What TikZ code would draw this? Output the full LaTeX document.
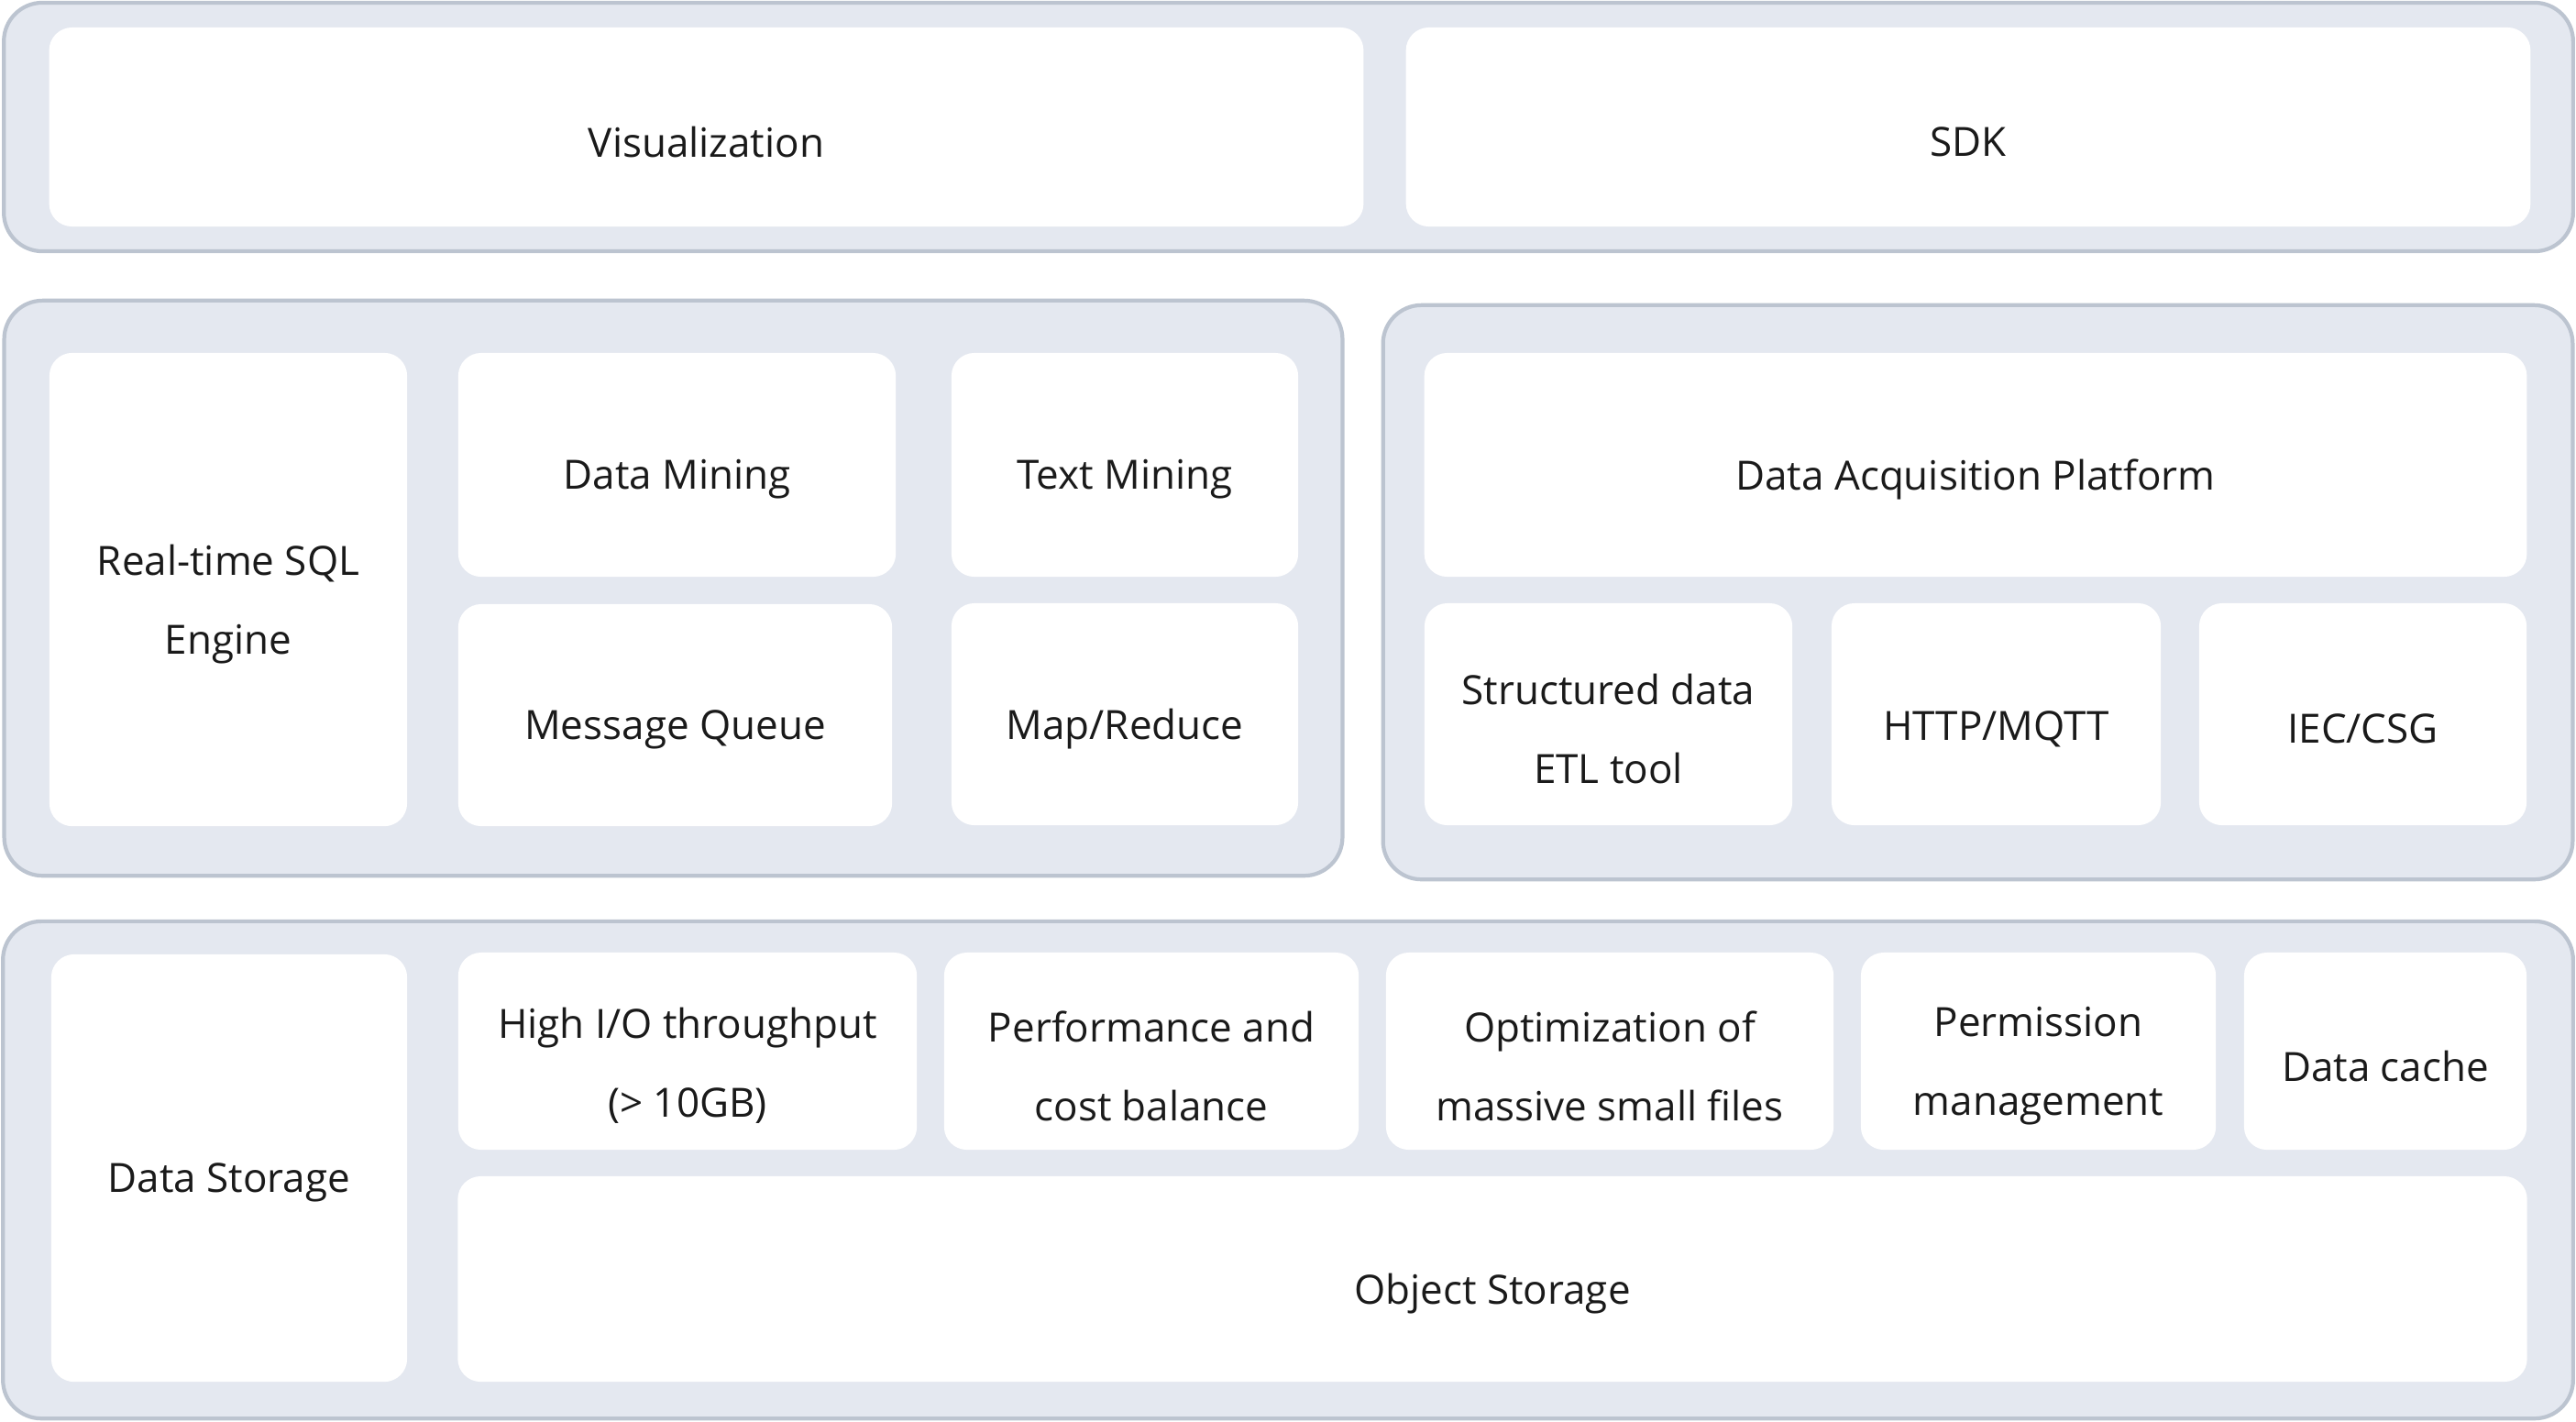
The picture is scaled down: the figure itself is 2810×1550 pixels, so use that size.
\documentclass[tikz,border=0pt]{standalone}
\usepackage{fontspec}
\setmainfont{Open Sans}
\definecolor{panelfill}{HTML}{E4E8F0}
\definecolor{panelline}{HTML}{BCC4D0}
\definecolor{txt}{HTML}{1A1A1A}
\begin{document}
\begin{tikzpicture}[x=0.01cm,y=-0.01cm,
  panel/.style={draw=panelline, fill=panelfill, line width=1.2pt, rounded corners=0.42cm, inner sep=0pt},
  box/.style={fill=white, rounded corners=0.25cm, inner sep=0pt},
  lbl/.style={yshift=-0.16cm, inner sep=0pt, align=center, text=txt,
    font=\fontsize{12.5}{24.5}\selectfont}]
\useasboundingbox (0,0) rectangle (2810,1550);
% top layer
\node[panel, minimum width=28.01cm, minimum height=2.71cm] (p1) at (1405.5,138.5) {};
\node[box, minimum width=14.33cm, minimum height=2.17cm, label={[lbl]center:Visualization}] (vis) at (770.5,138.5) {};
\node[box, minimum width=12.26cm, minimum height=2.17cm, label={[lbl]center:SDK}] (sdk) at (2147,138.5) {};
% middle left
\node[panel, minimum width=14.59cm, minimum height=6.27cm] (p2l) at (734.5,641.5) {};
\node[box, minimum width=3.90cm, minimum height=5.16cm, label={[lbl]center:Real-time SQL\\Engine}] (sql) at (249,643) {};
\node[box, minimum width=4.77cm, minimum height=2.44cm, label={[lbl]center:Data Mining}] (dm) at (738.5,507) {};
\node[box, minimum width=3.78cm, minimum height=2.44cm, label={[lbl]center:Text Mining}] (tm) at (1227,507) {};
\node[box, minimum width=4.73cm, minimum height=2.42cm, label={[lbl]center:Message Queue}] (mq) at (736.5,780) {};
\node[box, minimum width=3.78cm, minimum height=2.42cm, label={[lbl]center:Map/Reduce}] (mr) at (1227,779) {};
% middle right
\node[panel, minimum width=12.97cm, minimum height=6.26cm] (p2r) at (2157.5,646) {};
\node[box, minimum width=12.02cm, minimum height=2.44cm, label={[lbl]center:Data Acquisition Platform}] (dap) at (2155,507) {};
\node[box, minimum width=4.01cm, minimum height=2.42cm, label={[lbl]center:Structured data\\ETL tool}] (etl) at (1754.5,779) {};
\node[box, minimum width=3.59cm, minimum height=2.42cm, label={[lbl]center:HTTP/MQTT}] (http) at (2177.5,779) {};
\node[box, minimum width=3.57cm, minimum height=2.42cm, label={[lbl]center:IEC/CSG}] (iec) at (2577.5,779) {};
% bottom
\node[panel, minimum width=28.02cm, minimum height=5.42cm] (p3) at (1405,1276) {};
\node[box, minimum width=3.88cm, minimum height=4.66cm, label={[lbl]center:Data Storage}] (ds) at (250,1274) {};
\node[box, minimum width=5.00cm, minimum height=2.15cm, label={[lbl]center:High I/O throughput\\(> 10GB)}] (hio) at (750,1146.5) {};
\node[box, minimum width=4.52cm, minimum height=2.15cm, label={[lbl]center:Performance and\\cost balance}] (perf) at (1256,1146.5) {};
\node[box, minimum width=4.88cm, minimum height=2.15cm, label={[lbl]center:Optimization of\\massive small files}] (opt) at (1756,1146.5) {};
\node[box, minimum width=3.87cm, minimum height=2.15cm, label={[lbl]center:Permission\\management}] (perm) at (2223.5,1146.5) {};
\node[box, minimum width=3.08cm, minimum height=2.15cm, label={[lbl]center:Data cache}] (cache) at (2602,1146.5) {};
\node[box, minimum width=22.56cm, minimum height=2.24cm, label={[lbl]center:Object Storage}] (obj) at (1628,1395) {};
\end{tikzpicture}
\end{document}
